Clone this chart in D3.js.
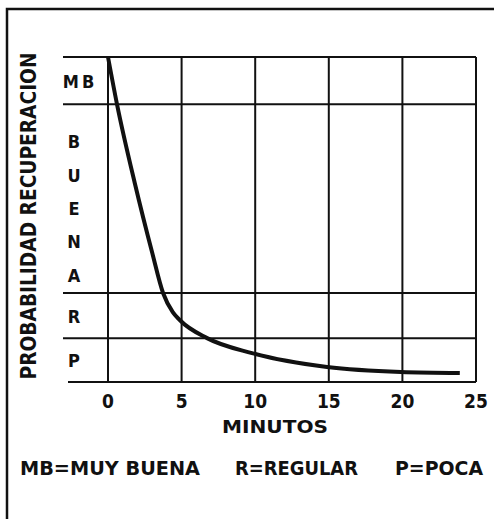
<!DOCTYPE html>
<html>
<head>
<meta charset="utf-8">
<script src="https://cdn.jsdelivr.net/npm/d3@7"></script>
<style>
  body { margin: 0; background: #fff; }
  text { font-family: "DejaVu Sans Condensed", "DejaVu Sans", sans-serif; font-weight: bold; fill: #111; }
</style>
</head>
<body>
<div id="chart"></div>
<script>
// curve: minutes vs. probability score (0 = bottom, 100 = top)
const minutes = [0, 0.61, 1.83, 2.99, 3.74, 4.4, 4.89, 6.73, 9.78, 14.88, 19.9, 23.9];
const score = [100, 85.5, 61, 40, 27.4, 21.5, 19, 13.5, 8.9, 4.6, 3.1, 2.8];

// qualitative bands on the y axis
const bandEdges = [0, 13.5, 27.4, 85.5, 100];
const bandLabels = ["P", "R", "BUENA", "MB"];

const xTicks = [0, 5, 10, 15, 20, 25];
const legendItems = ["MB=MUY BUENA", "R=REGULAR", "P=POCA"];

const W = 494, H = 519;
const svg = d3.select("#chart").append("svg")
  .attr("width", W)
  .attr("height", H);

// outer frame (runs off the right/bottom edge like the scan)
svg.append("rect")
  .attr("x", 7).attr("y", 9)
  .attr("width", 493).attr("height", 520)
  .attr("fill", "none")
  .attr("stroke", "#111")
  .attr("stroke-width", 2.5);

const x = d3.scaleLinear().domain([0, 25]).range([108, 476]);
const y = d3.scaleLinear().domain([0, 100]).range([382, 57]);

// horizontal band lines
svg.selectAll(".hline")
  .data(bandEdges)
  .enter().append("line")
  .attr("x1", d => d === 0 ? 68 : 63)
  .attr("x2", x(25))
  .attr("y1", d => y(d))
  .attr("y2", d => y(d))
  .attr("stroke", "#111")
  .attr("stroke-width", 2);

// vertical minute lines
svg.selectAll(".vline")
  .data(xTicks)
  .enter().append("line")
  .attr("x1", d => x(d))
  .attr("x2", d => x(d))
  .attr("y1", y(100))
  .attr("y2", y(0))
  .attr("stroke", "#111")
  .attr("stroke-width", 2);

// tick labels
svg.selectAll(".xtick")
  .data(xTicks)
  .enter().append("text")
  .attr("x", d => x(d))
  .attr("y", 408)
  .attr("text-anchor", "middle")
  .attr("font-size", 19)
  .text(d => d);

svg.append("text")
  .attr("x", 275)
  .attr("y", 433)
  .attr("text-anchor", "middle")
  .attr("font-size", 17)
  .attr("textLength", 106)
  .attr("lengthAdjust", "spacingAndGlyphs")
  .text("MINUTOS");

// y axis title
svg.append("text")
  .attr("transform", "translate(36,216) rotate(-90)")
  .attr("text-anchor", "middle")
  .attr("font-size", 21)
  .attr("textLength", 327)
  .attr("lengthAdjust", "spacingAndGlyphs")
  .text("PROBABILIDAD RECUPERACION");

// band labels
bandLabels.forEach((lab, i) => {
  const top = y(bandEdges[i + 1]), bot = y(bandEdges[i]);
  if (lab.length === 2) {
    svg.append("text")
      .attr("x", 80)
      .attr("y", (top + bot) / 2 + 7)
      .attr("text-anchor", "middle")
      .attr("font-size", 18)
      .attr("letter-spacing", 3)
      .text(lab);
  } else if (lab.length === 1) {
    svg.append("text")
      .attr("x", 74)
      .attr("y", (top + bot) / 2 + 7)
      .attr("text-anchor", "middle")
      .attr("font-size", 18)
      .text(lab);
  } else {
    const ly = d3.scalePoint().domain(d3.range(lab.length)).range([top + 37, bot - 18]);
    lab.split("").forEach((ch, j) => {
      svg.append("text")
        .attr("x", 74)
        .attr("y", ly(j) + 7)
        .attr("text-anchor", "middle")
        .attr("font-size", 18)
        .text(ch);
    });
  }
});

// recovery curve
const line = d3.line()
  .x(d => x(d[0]))
  .y(d => y(d[1]))
  .curve(d3.curveMonotoneX);

svg.append("path")
  .datum(minutes.map((m, i) => [m, score[i]]))
  .attr("d", line)
  .attr("fill", "none")
  .attr("stroke", "#111")
  .attr("stroke-width", 4)
  .attr("stroke-linecap", "butt");

// legend
const legendX = [20, 235, 395];
const legendW = [180, 123, 88];
legendItems.forEach((t, i) => {
  svg.append("text")
    .attr("x", legendX[i])
    .attr("y", 475)
    .attr("font-size", 19)
    .attr("textLength", legendW[i])
    .attr("lengthAdjust", "spacingAndGlyphs")
    .text(t);
});
</script>
</body>
</html>
